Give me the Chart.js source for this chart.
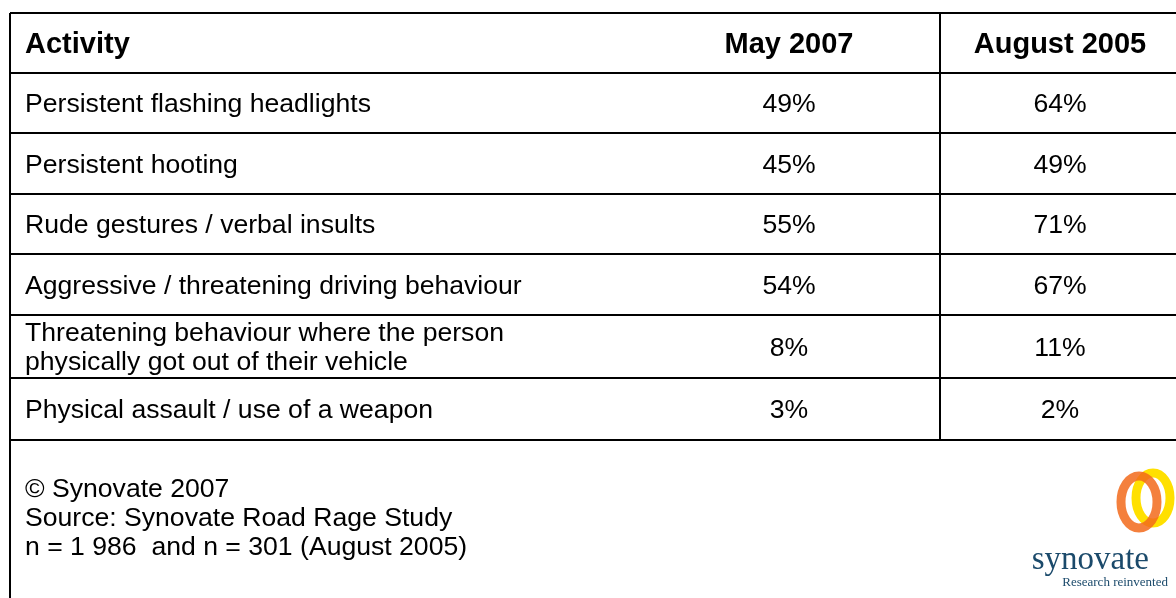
<!DOCTYPE html>
<html>
<head>
<meta charset="utf-8">
<script src="https://cdn.jsdelivr.net/npm/chart.js@4.4.1/dist/chart.umd.min.js"></script>
<style>
  html, body { margin: 0; padding: 0; background: #fff; overflow: hidden; }
  #wrap { width: 1176px; height: 598px; overflow: hidden; }
</style>
</head>
<body>
<div id="wrap"><canvas id="tableChart" width="1190" height="598"></canvas></div>
<script>
// table contents
const columns = ['Activity', 'May 2007', 'August 2005'];
const activities = [
    'Persistent flashing headlights',
    'Persistent hooting',
    'Rude gestures / verbal insults',
    'Aggressive / threatening driving behaviour',
    ['Threatening behaviour where the person', 'physically got out of their vehicle'],
    'Physical assault / use of a weapon'
];
const may2007 = [49, 45, 55, 54, 8, 3];
const aug2005 = [64, 49, 71, 67, 11, 2];
const footnotes = [
    '\u00A9 Synovate 2007',
    'Source: Synovate Road Rage Study',
    'n = 1 986  and n = 301 (August 2005)'
];

// layout (scale units = pixels inside the chart area)
const rowEdges = [0, 60, 120, 181, 241, 302, 365, 427];
const footY = [477, 505.5, 534.5];
const colX = { label: 15, divider: 930, may: 779, aug: 1050 };

const FONT = '"Liberation Sans", Arial, sans-serif';
const NUDGE = 2; // visual centring of text in a row

const tablePlugin = {
    id: 'tablePlugin',
    afterDraw(chart) {
        const c = chart.ctx;
        const xs = chart.scales.x, ys = chart.scales.y;
        const area = chart.chartArea;
        const px = v => xs.getPixelForValue(v);
        const py = v => ys.getPixelForValue(v);

        c.save();
        c.strokeStyle = '#000';
        c.lineWidth = 2;
        // horizontal rules
        rowEdges.forEach(v => {
            c.beginPath();
            c.moveTo(area.left, py(v));
            c.lineTo(area.right, py(v));
            c.stroke();
        });
        // outer left/right border
        c.beginPath();
        c.moveTo(px(0), py(0)); c.lineTo(px(0), area.bottom + 2);
        c.moveTo(px(1171), py(0)); c.lineTo(px(1171), area.bottom + 2);
        // column divider
        c.moveTo(px(colX.divider), py(0));
        c.lineTo(px(colX.divider), py(rowEdges[rowEdges.length - 1]));
        c.stroke();

        c.fillStyle = '#000';
        c.textBaseline = 'middle';
        const mid = i => py((rowEdges[i] + rowEdges[i + 1]) / 2) + NUDGE;

        // header
        c.font = 'bold 29px ' + FONT;
        c.textAlign = 'left';
        c.fillText(columns[0], px(colX.label), mid(0));
        c.textAlign = 'center';
        c.fillText(columns[1], px(colX.may), mid(0));
        c.fillText(columns[2], px(colX.aug), mid(0));

        // body rows
        c.font = '26.6px ' + FONT;
        activities.forEach((a, i) => {
            const y = mid(i + 1);
            c.textAlign = 'left';
            if (Array.isArray(a)) {
                c.fillText(a[0], px(colX.label), y - 14.5);
                c.fillText(a[1], px(colX.label), y + 14.5);
            } else {
                c.fillText(a, px(colX.label), y);
            }
            c.textAlign = 'center';
            c.fillText(may2007[i] + '%', px(colX.may), y);
            c.fillText(aug2005[i] + '%', px(colX.aug), y);
        });

        // footer notes
        c.textAlign = 'left';
        footnotes.forEach((t, i) => c.fillText(t, px(colX.label), py(footY[i])));

        // synovate logo
        c.lineWidth = 9;
        c.strokeStyle = '#ffe000';
        c.beginPath();
        c.ellipse(1153, 498, 17, 25, 0, 0, Math.PI * 2);
        c.stroke();
        c.globalAlpha = 0.85;
        c.strokeStyle = '#f26a1b';
        c.beginPath();
        c.ellipse(1139, 502, 18, 26, 0, 0, Math.PI * 2);
        c.stroke();
        c.globalAlpha = 1;
        c.fillStyle = '#1b4a6b';
        c.textAlign = 'right';
        c.font = '33px "Liberation Serif", "DejaVu Serif", serif';
        c.fillText('synovate', 1149, 560);
        c.font = '13px "Liberation Serif", "DejaVu Serif", serif';
        c.fillText('Research reinvented', 1168, 583);
        c.restore();
    }
};

new Chart(document.getElementById('tableChart').getContext('2d'), {
    type: 'scatter',
    data: { datasets: [{ data: [] }] },
    options: {
        responsive: false,
        animation: false,
        events: [],
        layout: { padding: { left: 10, top: 13, right: 9, bottom: 0 } },
        plugins: { legend: { display: false }, tooltip: { enabled: false } },
        scales: {
            x: { type: 'linear', display: false, min: 0, max: 1171 },
            y: { type: 'linear', display: false, reverse: true, min: 0, max: 585 }
        }
    },
    plugins: [tablePlugin]
});
</script>
</body>
</html>
